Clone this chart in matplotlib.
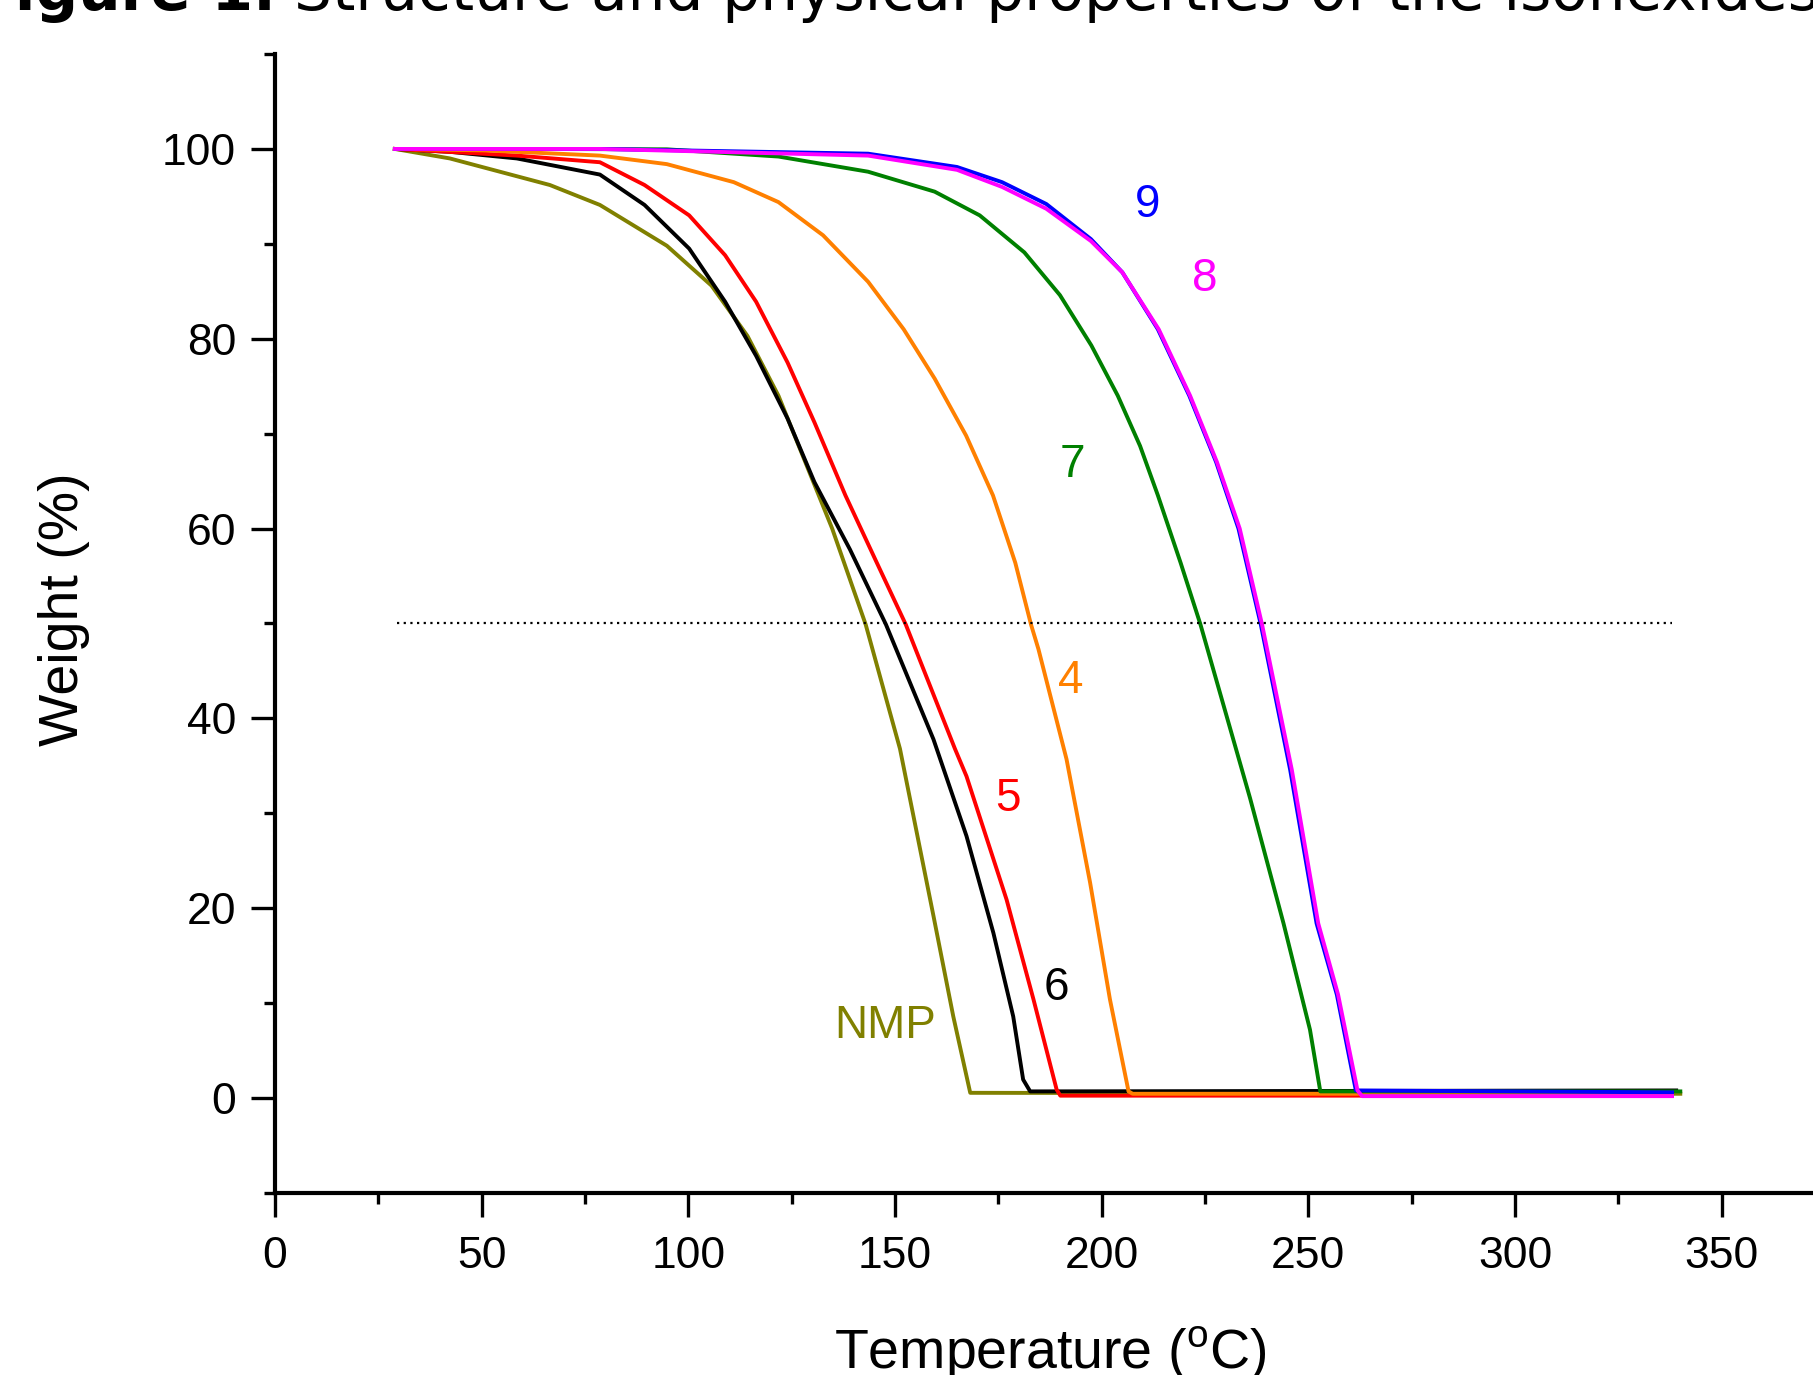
import matplotlib
matplotlib.use("Agg")
import matplotlib.pyplot as plt
from matplotlib.ticker import MultipleLocator

plt.rcParams["font.family"] = ["Liberation Sans", "DejaVu Sans"]

# TGA curves: temperature (C) and weight (%)
nmp_t = [29, 42.3, 54.4, 66.5, 78.6, 94.8, 105.6, 114.3, 121.8, 128.3, 134.8, 142.9, 151.2, 159.3, 164.1, 168.2, 340]
nmp_w = [100, 99.0, 97.6, 96.2, 94.1, 89.8, 85.6, 80.3, 74.0, 67.0, 60.0, 49.9, 36.8, 19.2, 8.6, 0.55, 0.45]

c6_t = [29, 42.3, 58.5, 78.6, 89.4, 100.2, 108.9, 116.4, 124, 130.5, 139.1, 147.8, 159.3, 167.3, 173.8, 178.6, 181, 182.7, 339]
c6_w = [100, 99.7, 99.0, 97.3, 94.1, 89.5, 83.9, 78.2, 71.6, 64.9, 57.8, 49.9, 37.8, 27.6, 17.4, 8.6, 1.95, 0.7, 0.8]

c5_t = [29, 58.5, 78.6, 89.4, 100.2, 108.9, 116.4, 124, 130.5, 138, 145.6, 152.6, 164.5, 167.3, 177, 183.5, 189.1, 190, 338]
c5_w = [100, 99.3, 98.6, 96.2, 93.0, 88.8, 83.9, 77.5, 71.2, 63.5, 56.4, 49.9, 36.8, 33.9, 20.9, 10.4, 0.9, 0.25, 0.25]

c4_t = [29, 50.4, 78.6, 94.8, 111, 121.8, 132.6, 143.5, 152.1, 159.6, 167.2, 173.7, 179.1, 182.9, 184.7, 191.5, 197.2, 202, 206.5, 207.5, 338]
c4_w = [100, 99.85, 99.3, 98.4, 96.5, 94.4, 90.9, 86.0, 81.0, 75.8, 69.8, 63.5, 56.4, 49.9, 47.3, 35.7, 22.7, 10.4, 0.7, 0.45, 0.45]

c7_t = [29, 60, 94.8, 121.8, 143.5, 159.6, 170.5, 181.3, 189.9, 197.5, 203.9, 209.3, 213.6, 219.1, 223.9, 235.9, 244, 250.4, 252.9, 340]
c7_w = [100, 100, 99.96, 99.2, 97.6, 95.5, 93.0, 89.1, 84.6, 79.3, 74.0, 68.7, 63.5, 56.4, 49.9, 31.6, 18.4, 7.2, 0.7, 0.7]

c9_t = [29, 78.6, 143.5, 165, 175.9, 186.6, 197.4, 205, 213.6, 221.2, 227.7, 233.1, 238.5, 245.6, 252, 256.9, 261.5, 338]
c9_w = [100, 100, 99.5, 98.1, 96.5, 94.2, 90.5, 87.0, 81.0, 74.0, 67.0, 60.0, 49.9, 34.6, 18.4, 10.9, 0.8, 0.6]

c8_t = [29, 78.6, 143.5, 165, 175.9, 186.6, 197.4, 205, 213.8, 221.4, 227.9, 233.4, 238.8, 246, 252.4, 257.2, 261.9, 263, 338]
c8_w = [100, 100, 99.3, 97.8, 96.0, 93.7, 90.3, 87.0, 81.0, 74.0, 67.0, 60.0, 49.9, 34.6, 18.4, 10.9, 0.8, 0.2, 0.2]

half_t = [29.4, 338]
half_w = [50, 50]

curves = [
    ("NMP", nmp_t, nmp_w, "#808000", (147.7, 7.6)),
    ("6", c6_t, c6_w, "black", (189.1, 11.6)),
    ("5", c5_t, c5_w, "#ff0000", (177.4, 31.5)),
    ("4", c4_t, c4_w, "#ff8000", (192.5, 43.9)),
    ("7", c7_t, c7_w, "#008000", (192.8, 66.7)),
    ("9", c9_t, c9_w, "#0000ff", (211, 94.1)),
    ("8", c8_t, c8_w, "#ff00ff", (225, 86.3)),
]

fig = plt.figure(figsize=(18.13, 13.75), dpi=100)
ax = fig.add_axes([0.1517, 0.1324, 0.8663, 0.8283])

for name, t, w, color, (lx, ly) in curves:
    ax.plot(t, w, color=color, lw=2.8, solid_joinstyle="round")
    ax.text(lx, ly, name, color=color, fontsize=33, ha="center", va="center")

ax.plot(half_t, half_w, color="black", lw=1.6, linestyle=(0, (1, 2)))

ax.set_xlim(0, 380)
ax.set_ylim(-10, 110)
ax.xaxis.set_major_locator(MultipleLocator(50))
ax.xaxis.set_minor_locator(MultipleLocator(25))
ax.yaxis.set_major_locator(MultipleLocator(20))
ax.yaxis.set_minor_locator(MultipleLocator(10))
ax.set_xticks([0, 50, 100, 150, 200, 250, 300, 350])

for side in ("top", "right"):
    ax.spines[side].set_visible(False)
for side in ("left", "bottom"):
    ax.spines[side].set_linewidth(3)

ax.tick_params(which="major", direction="out", length=17, width=2.4, labelsize=32)
ax.tick_params(axis="x", which="major", pad=14)
ax.tick_params(axis="y", which="major", pad=11)
ax.tick_params(which="minor", direction="out", length=8, width=2.4)

fig.text(0.0353, 0.557, "Weight (%)", rotation=90, fontsize=40, ha="center", va="center")
fig.text(0.579, 0.005, r"Temperature ($^\mathregular{o}$C)", fontsize=40, ha="center", va="baseline")

# caption cut off at the top of the crop
fig.text(0.152, 0.9927, "Figure 1.", fontsize=43, fontweight="bold",
         family="DejaVu Sans", ha="right", va="baseline")
fig.text(0.1622, 0.9927, "Structure and physical properties of the isohexides", fontsize=43,
         family="DejaVu Sans", ha="left", va="baseline")

fig.savefig("out.png", dpi=100)
